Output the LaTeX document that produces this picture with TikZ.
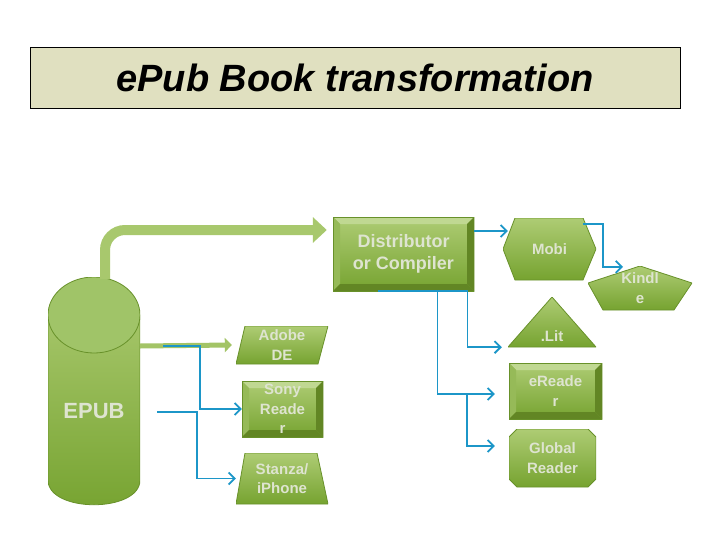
\documentclass[tikz,border=0pt]{standalone}
\usepackage{fontspec}
\setmainfont{Liberation Sans}
\usetikzlibrary{arrows.meta}
\definecolor{gtop}{RGB}{174,204,116}
\definecolor{gbot}{RGB}{118,163,48}
\definecolor{gedge}{RGB}{104,145,42}
\definecolor{cylcap}{RGB}{160,196,104}
\definecolor{bvlight}{RGB}{192,216,146}
\definecolor{bvmid}{RGB}{150,186,88}
\definecolor{bvdark}{RGB}{98,134,36}
\definecolor{txt}{RGB}{222,228,208}
\definecolor{linkblue}{RGB}{28,150,200}
\definecolor{titlebg}{RGB}{224,224,192}
\def\ppb{path picture bounding box}

\begin{document}
\begin{tikzpicture}[x=1pt, y=-1pt,
    shapetext/.style={text=txt, font=\bfseries\fontsize{15}{19.5}\selectfont, align=center, inner sep=0pt},
    gfill/.style={top color=gtop, bottom color=gbot, draw=gedge, line width=0.8pt},
    bevelbox/.style={shapetext, path picture={
        \path[gfill] (\ppb.south west) rectangle (\ppb.north east);
        \fill[bvlight] (\ppb.north west) -- (\ppb.north east) -- ([xshift=-7pt,yshift=-7pt]\ppb.north east) -- ([xshift=7pt,yshift=-7pt]\ppb.north west) -- cycle;
        \fill[bvmid] (\ppb.north west) -- ([xshift=7pt,yshift=-7pt]\ppb.north west) -- ([xshift=7pt,yshift=7pt]\ppb.south west) -- (\ppb.south west) -- cycle;
        \fill[bvdark] (\ppb.north east) -- (\ppb.south east) -- ([xshift=-7pt,yshift=7pt]\ppb.south east) -- ([xshift=-7pt,yshift=-7pt]\ppb.north east) -- cycle;
        \fill[bvdark] (\ppb.south west) -- (\ppb.south east) -- ([xshift=-7pt,yshift=7pt]\ppb.south east) -- ([xshift=7pt,yshift=7pt]\ppb.south west) -- cycle;
        \draw[gedge, line width=1pt] (\ppb.south west) rectangle (\ppb.north east);}},
    parallel/.style={shapetext, path picture={
        \path[gfill] (\ppb.south west) -- ([xshift=9pt]\ppb.north west) -- (\ppb.north east) -- ([xshift=-10pt]\ppb.south east) -- cycle;}},
    trapez/.style={shapetext, path picture={
        \path[gfill] (\ppb.south west) -- ([xshift=9pt]\ppb.north west) -- ([xshift=-11pt]\ppb.north east) -- (\ppb.south east) -- cycle;}},
    hexa/.style={shapetext, path picture={
        \path[gfill] (\ppb.west) -- ([xshift=12pt]\ppb.north west) -- ([xshift=-13pt]\ppb.north east) -- (\ppb.east) -- ([xshift=-13pt]\ppb.south east) -- ([xshift=12pt]\ppb.south west) -- cycle;}},
    penta/.style={shapetext, path picture={
        \path[gfill] (\ppb.north) -- ([yshift=-17pt]\ppb.north east) -- ([xshift=-18pt]\ppb.south east) -- ([xshift=15pt]\ppb.south west) -- ([yshift=-17pt]\ppb.north west) -- cycle;}},
    trian/.style={shapetext, path picture={
        \path[gfill] (\ppb.north) -- (\ppb.south east) -- (\ppb.south west) -- cycle;}},
    snipbox/.style={shapetext, path picture={
        \path[gfill] ([xshift=8pt]\ppb.north west) -- ([xshift=-8pt]\ppb.north east) -- ([yshift=-8pt]\ppb.north east) -- ([yshift=8pt]\ppb.south east) -- ([xshift=-8pt]\ppb.south east) -- ([xshift=8pt]\ppb.south west) -- ([yshift=8pt]\ppb.south west) -- ([yshift=-8pt]\ppb.north west) -- cycle;}},
    cylinder body/.style={path picture={
        \path[top color=gtop, bottom color=gbot, draw=gedge, line width=0.8pt] ([yshift=-38pt]\ppb.north west) -- ([yshift=25pt]\ppb.south west) .. controls ([yshift=-8pt]\ppb.south west) and ([yshift=-8pt]\ppb.south east) .. ([yshift=25pt]\ppb.south east) -- ([yshift=-38pt]\ppb.north east) -- cycle;
        \filldraw[fill=cylcap, draw=gedge, line width=0.8pt] ([yshift=-38pt]\ppb.north) ellipse [x radius=46pt, y radius=38pt];}},
    link/.style={draw=linkblue, line width=1.8pt, -{Straight Barb[length=6pt,width=12pt]}},
    bigarrow/.style={draw=gtop!90!gbot, line width=10pt, rounded corners=20pt, -{Triangle[length=14pt,width=25pt]}},
    smallarrow/.style={draw=gtop!80!gbot, line width=5pt, -{Triangle[length=7pt,width=14pt]}}]
    \useasboundingbox[fill=white] (0,0) rectangle (728,546);

    % title
    \node[draw=black, line width=0.8pt, fill=titlebg, minimum width=650pt, minimum height=61pt,
          font=\bfseries\itshape\fontsize{38}{44}\selectfont] (title) at (355,77.5) {ePub Book transformation};

    % source and the three readers
    \node[cylinder body, text=txt, inner sep=0pt, minimum width=92pt, minimum height=228pt,
          font=\bfseries\fontsize{22}{26}\selectfont, text height=54pt, text depth=0pt] (epub) at (94,391) {EPUB};
    \node[parallel, minimum width=92pt, minimum height=38pt] (adobe) at (282,345) {Adobe\\DE};
    \node[bevelbox, minimum width=81pt, minimum height=56pt] (sony) at (282.5,409) {Sony\\Reade\\r};
    \node[trapez, minimum width=92pt, minimum height=51pt] (stanza) at (282,478.5) {Stanza/\\iPhone};

    % distributor and its outputs
    \node[bevelbox, minimum width=141pt, minimum height=74pt, font=\bfseries\fontsize{18}{22}\selectfont] (dist) at (403.5,254) {Distributor\\or Compiler};
    \node[hexa, minimum width=93pt, minimum height=62pt] (mobi) at (549.5,249) {Mobi};
    \node[penta, minimum width=104pt, minimum height=44pt] (kindle) at (640,288) {Kindl\\e};
    \node[trian, minimum width=88pt, minimum height=50pt, text height=38pt, text depth=0pt] (lit) at (552,322) {.Lit};
    \node[bevelbox, minimum width=93pt, minimum height=56pt] (ereader) at (555.5,391) {eReade\\r};
    \node[snipbox, minimum width=87pt, minimum height=58pt] (global) at (552.5,458) {Global\\Reader};

    \coordinate (epubtop) at (105,279);
    \coordinate (epubside) at (140,346);
    \coordinate (fork1) at (163,346);
    \coordinate (fork2) at (157,412);
    \coordinate (fork3) at (467,394);

    \draw[bigarrow] (epubtop) |- ([xshift=-6pt,yshift=24pt]dist.west);
    \draw[smallarrow] (epubside) -- ([xshift=-4pt]adobe.west);

    \draw[link] (fork1) -- ++(37,0) |- (sony.west);
    \draw[link] (fork2) -- ++(40,0) |- (stanza.west);

    \draw[link] ([yshift=23pt]dist.east) -- ([xshift=5pt,yshift=18pt]mobi.west);
    \draw[link] ([xshift=-13pt,yshift=-6pt]mobi.north east) -- ++(20,0) |- ([xshift=-17pt,yshift=-1pt]kindle.north);
    \draw[link] ([xshift=-26pt]dist.south) -- ++(90,0) |- ([xshift=-6pt]lit.south west);
    \draw[link] ([xshift=34pt]dist.south) |- ([xshift=-14pt,yshift=-3pt]ereader.west);
    \draw[link] (fork3) |- ([xshift=-14pt,yshift=12pt]global.west);
\end{tikzpicture}
\end{document}
